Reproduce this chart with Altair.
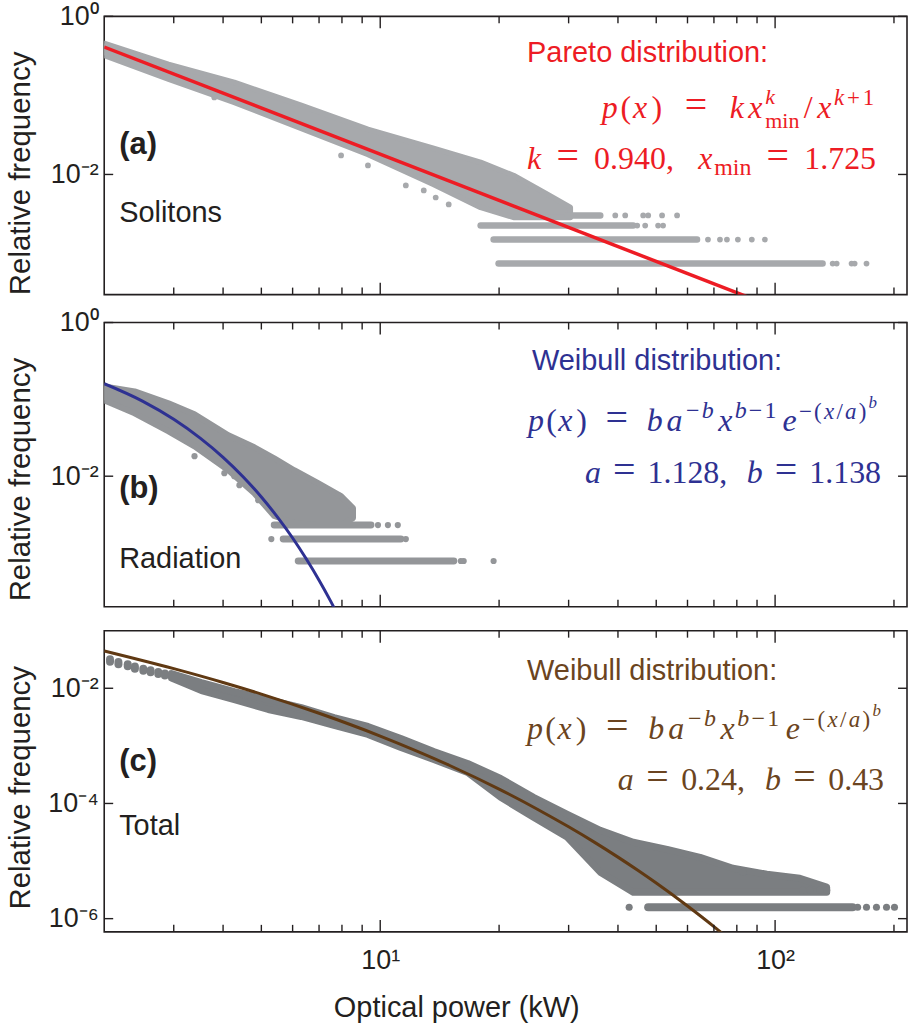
import altair as alt
import pandas as pd

# ---------------- data ----------------
X_DOMAIN = [2.0, 215.8]
X_MAJOR = [10, 100]
X_MINOR = [3, 4, 5, 6, 7, 8, 9, 20, 30, 40, 50, 60, 70, 80, 90, 200]
X_LABEL_EXP = [1, 2]
X_LABEL_TXT = ["10¹", "10²"]

# (a) Solitons
A_YDOM = [3.02e-4, 1.0]
A_YTICK_EXP = [0, -2]
A_YTICK_TXT = ["10⁰", "10⁻²"]
A_BAND_X = [2.0, 2.91, 4.27, 6.31, 9.31, 13.66, 17.96, 21.76, 26.52, 30.3]
A_BAND_HI = [0.455, 0.247, 0.146, 0.0747, 0.0371, 0.0213, 0.0142, 0.0097, 0.00558, 0.00382]
A_BAND_LO = [0.321, 0.160, 0.0815, 0.0382, 0.0179, 0.00747, 0.00382, 0.00286, 0.00286, 0.00286]
A_ROW_Y = [7.47e-4, 1.50e-3, 2.26e-3, 3.03e-3]
A_ROW_X0 = [19.94, 19.37, 17.96, 29.78]
A_ROW_X1 = [131.9, 63.44, 43.72, 36.08]
A_DOT_X = [39.38, 41.73, 46.34, 47.71, 51.74, 56.47,
           44.75, 46.88, 50.55, 52.04,
           67.61, 72.51, 75.51, 80.5, 87.3, 94.2,
           139.9, 143.2, 156.2, 159.0, 170.4,
           3.80, 7.96, 9.31, 11.61, 12.89, 13.82, 14.91]
A_DOT_Y = [3.03e-3] * 6 + [2.26e-3] * 4 + [1.50e-3] * 6 + [7.47e-4] * 5 + \
          [0.0944, 0.0174, 0.0130, 0.00726, 0.00627, 0.00511, 0.00417]
A_FIT_X = [2.0, 100.0]
A_FIT_Y = [0.409, 2.07e-4]

# (b) Radiation
B_YDOM = [2.0e-4, 1.0]
B_YTICK_EXP = [0, -2]
B_YTICK_TXT = ["10⁰", "10⁻²"]
B_BAND_X = [2.0, 2.388, 2.910, 3.386, 4.125, 4.799, 5.390, 6.055, 6.961, 7.958, 8.532]
B_BAND_HI = [0.1476, 0.127, 0.0887, 0.0638, 0.0341, 0.0238, 0.0171, 0.01197, 0.00811, 0.00550, 0.00384]
B_BAND_LO = [0.0971, 0.0658, 0.0384, 0.0245, 0.01197, 0.00601, 0.00303, 0.00245, 0.00231, 0.00231, 0.00285]
B_ROW_Y = [7.87e-4, 1.52e-3, 2.31e-3]
B_ROW_X0 = [6.20, 5.68, 5.39]
B_ROW_X1 = [15.36, 11.28, 9.475]
B_DOT_X = [9.87, 10.46, 11.08, 5.30, 11.61, 16.0, 16.27, 19.37,
           3.386, 4.03, 4.27, 4.40, 4.91, 7.82]
B_DOT_Y = [2.31e-3] * 3 + [1.52e-3] * 2 + [7.87e-4] * 3 + \
          [0.0182, 0.01094, 0.0100, 0.00764, 0.00488, 0.00567]
B_FIT_X = [2.0, 2.5, 3.0, 3.5, 4.0, 4.5, 5.0, 5.5, 6.0, 6.5, 7.0, 7.5, 8.0]
B_FIT_Y = [0.160, 0.0949, 0.0550, 0.0313, 0.0176, 0.00977, 0.00536, 0.00291,
           0.00157, 0.000835, 0.000443, 0.000233, 0.000121]

# (c) Total
C_YDOM = [5.9e-7, 0.1]
C_YTICK_EXP = [-2, -4, -6]
C_YTICK_TXT = ["10⁻²", "10⁻⁴", "10⁻⁶"]
C_BAND_X = [2.96, 3.526, 4.272, 5.205, 6.31, 7.641, 9.31, 11.28, 13.66, 16.65,
            20.18, 24.44, 29.78, 36.08, 43.72, 53.27, 64.55, 78.2, 95.3, 115.5, 135.1]
C_BAND_HI = [0.0180, 0.01256, 0.00877, 0.00637, 0.00463, 0.00310, 0.00217,
             0.00134, 0.000800, 0.000495, 0.000272, 0.000128, 6.47e-5, 3.42e-5, 2.12e-5,
             1.60e-5, 1.16e-5, 7.50e-6, 5.90e-6, 5.03e-6, 3.52e-6]
C_BAND_LO = [0.0150, 0.00912, 0.00637, 0.00428, 0.00324, 0.00226, 0.00158,
             0.000937, 0.000581, 0.000346, 0.000128, 5.74e-5, 2.58e-5, 6.40e-6, 2.88e-6,
             2.88e-6, 2.88e-6, 2.88e-6, 2.88e-6, 2.88e-6, 2.88e-6]
# separate blobs of points at the low-power end
C_BLOB_X = [2.069, 2.173, 2.294, 2.392, 2.512, 2.621, 2.741, 2.849]
C_BLOB_HI = [0.0318, 0.0287, 0.0261, 0.0238, 0.0219, 0.0205, 0.0192, 0.0180]
C_BLOB_LO = [0.0290, 0.0262, 0.0240, 0.0219, 0.0202, 0.0189, 0.0177, 0.0166]
C_ROW_Y = [1.58e-6]
C_ROW_X0 = [47.7]
C_ROW_X1 = [157.1]
C_DOT_X = [42.7, 161.8, 170.4, 180.6, 191.5, 200.6, 117.5, 122.4, 129.7, 135.1, 82.9]
C_DOT_Y = [1.58e-6] * 6 + [3.12e-6] * 4 + [6.4e-6]
C_FIT_X = [2, 3, 4, 5, 7, 10, 15, 20, 25, 30, 35, 40, 45, 50, 60, 70, 80]
C_FIT_Y = [0.0445, 0.0219, 0.0126, 0.00793, 0.00368, 0.00148, 0.000456, 0.0001775,
           7.95e-5, 3.93e-5, 2.09e-5, 1.17e-5, 6.84e-6, 4.15e-6, 1.66e-6, 7.28e-7, 3.4e-7]

# ---------------- annotation text ----------------
# math pieces: (text, size, italic, dy, gap weight before, stacked under previous)
PARETO_1 = [("p", 32, 1, 0, 0, 0), ("(", 32, 0, 0, .3, 0), ("x", 32, 1, 0, .2, 0),
            (")", 32, 0, 0, .5, 0), ("=", 40, 0, 0, 2.5, 0), ("k", 32, 1, 0, 2.5, 0),
            ("x", 32, 1, 0, .5, 0), ("k", 22, 1, -14, .3, 0), ("min", 22, 0, 10, 0, 1),
            ("/", 32, 0, 0, .5, 0), ("x", 32, 1, 0, .5, 0), ("k", 23, 1, -13, .3, 0),
            ("+", 23, 0, -13, .3, 0), ("1", 23, 0, -13, .3, 0)]
PARETO_2 = [("k", 32, 1, 0, 0, 0), ("=", 40, 0, 0, 2.5, 0), ("0.940,", 32, 0, 0, 2.5, 0),
            ("x", 32, 1, 0, 4, 0), ("min", 24, 0, 6, .3, 0), ("=", 40, 0, 0, 2.5, 0),
            ("1.725", 32, 0, 0, 2.5, 0)]
WEIBULL_1 = [("p", 32, 1, 0, 0, 0), ("(", 32, 0, 0, .3, 0), ("x", 32, 1, 0, .2, 0),
             (")", 32, 0, 0, .5, 0), ("=", 40, 0, 0, 2.5, 0), ("b", 32, 1, 0, 2.5, 0),
             ("a", 32, 1, 0, .5, 0), ("−", 24, 0, -13, .5, 0), ("b", 24, 1, -13, .3, 0),
             ("x", 32, 1, 0, .6, 0), ("b", 24, 1, -13, .3, 0), ("−", 24, 0, -13, .3, 0),
             ("1", 24, 0, -13, .3, 0), ("e", 32, 1, 0, .8, 0), ("−", 23, 0, -12, .3, 0),
             ("(", 23, 0, -12, .3, 0), ("x", 23, 1, -12, .3, 0), ("/", 23, 0, -12, .3, 0),
             ("a", 23, 1, -12, .3, 0), (")", 23, 0, -12, .3, 0), ("b", 17, 1, -23, .3, 0)]
B_PARAMS = [("a", 32, 1, 0, 0, 0), ("=", 40, 0, 0, 2.5, 0), ("1.128,", 32, 0, 0, 2.5, 0),
            ("b", 32, 1, 0, 4, 0), ("=", 40, 0, 0, 2.5, 0), ("1.138", 32, 0, 0, 2.5, 0)]
C_PARAMS = [("a", 32, 1, 0, 0, 0), ("=", 40, 0, 0, 2.5, 0), ("0.24,", 32, 0, 0, 2.5, 0),
            ("b", 32, 1, 0, 4, 0), ("=", 40, 0, 0, 2.5, 0), ("0.43", 32, 0, 0, 2.5, 0)]

# (text, x_abs, baseline_abs, size, bold, coloured)
A_TEXT = [("(a)", 118, 152, 31, True, False), ("Solitons", 118, 220, 29, False, False),
          ("Pareto distribution:", 527, 60, 29, False, True)]
B_TEXT = [("(b)", 118, 495, 31, True, False), ("Radiation", 118, 565, 29, False, False),
          ("Weibull distribution:", 532, 367, 29, False, True)]
C_TEXT = [("(c)", 118, 769, 31, True, False), ("Total", 118, 833, 29, False, False),
          ("Weibull distribution:", 527, 677, 29, False, True)]

# ---------------- styling ----------------
AX = "#231F20"
W = 805
LEFT = 103
SANS = "Liberation Sans"
SERIF = "Liberation Serif"

TIMES_R = {"(": .333, ")": .333, "=": .564, "/": .278, "+": .564, "−": .564, ".": .25,
           ",": .25, "m": .778, "i": .278, "n": .5}
TIMES_I = {"p": .5, "x": .444, "k": .444, "b": .5, "a": .5, "e": .444}


def text_w(t, size, it):
    tbl = TIMES_I if it else TIMES_R
    return sum(tbl.get(ch, 0.5) for ch in t) * size


def layout(seq, g):
    out, cursor, prev = [], 0.0, 0.0
    for (t, s, it, dy, wgt, stack) in seq:
        start = prev if stack else cursor + wgt * g
        cursor = max(cursor, start + text_w(t, s, it))
        prev = start
        out.append((t, start, dy, s, it))
    return out, cursor


def flow(seq, x0, x1, base):
    _, nat = layout(seq, 0.0)
    _, one = layout(seq, 1.0)
    g = (x1 - x0 - nat) / max(one - nat, 1e-6)
    pieces, _ = layout(seq, g)
    return [(t, x0 + sx, base + dy, s, bool(it)) for (t, sx, dy, s, it) in pieces]


A_MATH = flow(PARETO_1, 602, 875, 116) + flow(PARETO_2, 527, 877, 167)
B_MATH = flow(WEIBULL_1, 528, 878, 428) + flow(B_PARAMS, 585, 882, 480)
C_MATH = flow(WEIBULL_1, 527, 882, 737) + flow(C_PARAMS, 618, 885, 788)


def exp_label_expr(exps, txts):
    e = "round(log(datum.value)/LN10)"
    expr = "''"
    for ex, tx in reversed(list(zip(exps, txts))):
        expr = f"{e} == {ex} ? '{tx}' : ({expr})"
    return expr


def panel(H, top_abs, ydom, ytick_exp, ytick_txt, band, rows, dots, fit,
          grey, dot_d, fit_color, fit_w, texts, math, tcolor, show_x, top_pad=0, blobs=None):
    xs = alt.Scale(type="log", domain=X_DOMAIN, nice=False, zero=False)
    ys = alt.Scale(type="log", domain=ydom, nice=False, zero=False)
    yvals = [10.0 ** e for e in ytick_exp]
    if show_x:
        xaxis = alt.Axis(values=X_MAJOR, labelExpr=exp_label_expr(X_LABEL_EXP, X_LABEL_TXT),
                         ticks=False, tickSize=0, domain=False, grid=False,
                         labelFontSize=27, labelPadding=16, labelColor=AX,
                         title="Optical power (kW)", titleFontSize=29, titleFontWeight="normal",
                         titleColor=AX, titleX=353, titleY=85, titleAlign="center",
                         titleBaseline="alphabetic")
    else:
        xaxis = None
    yaxis = alt.Axis(values=yvals, labelExpr=exp_label_expr(ytick_exp, ytick_txt),
                     ticks=False, tickSize=0, domain=False, grid=False,
                     labelFontSize=27, labelPadding=6, labelColor=AX,
                     title="Relative frequency", titleFontSize=29.5, titleFontWeight="normal",
                     titleColor=AX, titleAngle=270, titleX=-69, titleY=157,
                     titleAlign="center", titleBaseline="bottom")

    def X(f):
        return alt.X(f, scale=xs, axis=xaxis)

    def Y(f):
        return alt.Y(f, scale=ys, axis=yaxis)

    band_df = pd.DataFrame({"x": band[0], "hi": band[1], "lo": band[2]})
    rows_df = pd.DataFrame({"x0": rows[1], "x1": rows[2], "y": rows[0]})
    dots_df = pd.DataFrame({"x": dots[0], "y": dots[1]})
    fit_df = pd.DataFrame({"x": fit[0], "y": fit[1]})

    layers = []
    layers.append(alt.Chart(band_df).mark_area(
        color=grey, stroke=grey, strokeWidth=dot_d - 1, strokeJoin="round", clip=True, opacity=1
    ).encode(x=X("x:Q"), y=Y("hi:Q"), y2="lo:Q"))
    layers.append(alt.Chart(rows_df).mark_rule(
        color=grey, strokeWidth=dot_d, strokeCap="round", clip=True
    ).encode(x=X("x0:Q"), x2="x1:Q", y=Y("y:Q")))
    if blobs is not None:
        blob_df = pd.DataFrame({"x": blobs[0], "hi": blobs[1], "lo": blobs[2]})
        layers.append(alt.Chart(blob_df).mark_rule(
            color=grey, strokeWidth=dot_d, strokeCap="round", clip=True
        ).encode(x=X("x:Q"), y=Y("hi:Q"), y2="lo:Q"))
    layers.append(alt.Chart(dots_df).mark_circle(
        color=grey, opacity=1, size=3.1416 * (dot_d / 2) ** 2, clip=True
    ).encode(x=X("x:Q"), y=Y("y:Q")))
    layers.append(alt.Chart(fit_df).mark_line(
        color=fit_color, strokeWidth=fit_w, clip=True, interpolate="monotone"
    ).encode(x=X("x:Q"), y=Y("y:Q")))

    # inward ticks (box style)
    maj = pd.DataFrame({"v": X_MAJOR})
    mnr = pd.DataFrame({"v": X_MINOR})
    for df, ln in ((maj, 12), (mnr, 7)):
        layers.append(alt.Chart(df).mark_rule(color=AX, strokeWidth=1.4).encode(
            x=X("v:Q"), y=alt.value(0), y2=alt.value(ln)))
        layers.append(alt.Chart(df).mark_rule(color=AX, strokeWidth=1.4).encode(
            x=X("v:Q"), y=alt.value(H), y2=alt.value(H - ln)))
    ydf = pd.DataFrame({"v": yvals})
    layers.append(alt.Chart(ydf).mark_rule(color=AX, strokeWidth=1.4).encode(
        y=Y("v:Q"), x=alt.value(0), x2=alt.value(9)))
    layers.append(alt.Chart(ydf).mark_rule(color=AX, strokeWidth=1.4).encode(
        y=Y("v:Q"), x=alt.value(W), x2=alt.value(W - 9)))
    if top_pad:
        # invisible spacer that reserves room above the panel
        layers.append(alt.Chart(ydf.head(1)).mark_rule(opacity=0).encode(
            x=alt.value(0), y=alt.value(-top_pad), y2=alt.value(0)))

    # text annotations (pixel placed)
    tdf = pd.DataFrame([{"t": t, "px": x - LEFT, "py": y - top_abs, "fs": s, "bold": b, "col": c}
                        for (t, x, y, s, b, c) in texts])
    for bold in (True, False):
        for col in (True, False):
            sub = tdf[(tdf.bold == bold) & (tdf.col == col)]
            if len(sub) == 0:
                continue
            layers.append(alt.Chart(sub).mark_text(
                font=SANS, fontWeight="bold" if bold else "normal", align="left",
                baseline="alphabetic", color=tcolor if col else AX
            ).encode(x=alt.X("px:Q", scale=None), y=alt.Y("py:Q", scale=None),
                     text="t:N", size=alt.Size("fs:Q", scale=None, legend=None)))
    mdf = pd.DataFrame([{"t": t, "px": x - LEFT, "py": y - top_abs, "fs": s, "it": it}
                        for (t, x, y, s, it) in math])
    for it in (True, False):
        sub = mdf[mdf.it == it]
        layers.append(alt.Chart(sub).mark_text(
            font=SERIF, fontStyle="italic" if it else "normal", align="left",
            baseline="alphabetic", color=tcolor
        ).encode(x=alt.X("px:Q", scale=None), y=alt.Y("py:Q", scale=None),
                 text="t:N", size=alt.Size("fs:Q", scale=None, legend=None)))

    return alt.layer(*layers).properties(width=W, height=H)


pa = panel(279, 14, A_YDOM, A_YTICK_EXP, A_YTICK_TXT,
           (A_BAND_X, A_BAND_HI, A_BAND_LO), (A_ROW_Y, A_ROW_X0, A_ROW_X1),
           (A_DOT_X, A_DOT_Y), (A_FIT_X, A_FIT_Y),
           "#A7A9AC", 6.5, "#ED1C24", 3.5, A_TEXT, A_MATH, "#ED1C24", False)
pb = panel(285, 319, B_YDOM, B_YTICK_EXP, B_YTICK_TXT,
           (B_BAND_X, B_BAND_HI, B_BAND_LO), (B_ROW_Y, B_ROW_X0, B_ROW_X1),
           (B_DOT_X, B_DOT_Y), (B_FIT_X, B_FIT_Y),
           "#949699", 7.0, "#2E3192", 3.0, B_TEXT, B_MATH, "#2E3192", False)
pc = panel(302, 628, C_YDOM, C_YTICK_EXP, C_YTICK_TXT,
           (C_BAND_X, C_BAND_HI, C_BAND_LO), (C_ROW_Y, C_ROW_X0, C_ROW_X1),
           (C_DOT_X, C_DOT_Y), (C_FIT_X, C_FIT_Y),
           "#7B7E81", 8.0, "#603913", 3.0, C_TEXT, C_MATH, "#6B4420", True, top_pad=10,
           blobs=(C_BLOB_X, C_BLOB_HI, C_BLOB_LO))

chart = alt.vconcat(pa, pb, pc, spacing=11).properties(
    padding={"left": 4.5, "top": 0, "right": 0, "bottom": 0}
).configure_view(stroke=AX, strokeWidth=1.6).configure_axis(
    labelFont=SANS, titleFont=SANS
)

chart.save("out.html", embed_options={"renderer": "svg", "actions": False})
